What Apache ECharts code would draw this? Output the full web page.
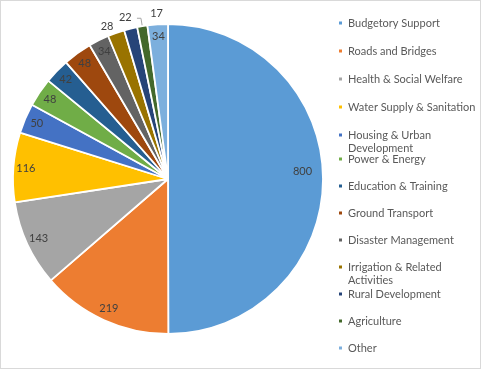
<!DOCTYPE html>
<html><head><meta charset="utf-8">
<script src="https://cdn.jsdelivr.net/npm/echarts@6/dist/echarts.min.js"></script>
<style>
html,body{margin:0;padding:0;background:#fff;}
#c{width:481px;height:369px;box-sizing:border-box;border:1px solid #d9d9d9;}
</style></head>
<body><div id="c"></div>
<script>
const categories = ['Budgetory Support','Roads and Bridges','Health & Social Welfare','Water Supply & Sanitation','Housing & Urban Development','Power & Energy','Education & Training','Ground Transport','Disaster Management','Irrigation & Related Activities','Rural Development','Agriculture','Other'];
const values = [800,219,143,116,50,48,42,48,34,28,22,17,34];
const colors = ['#5B9BD5','#ED7D31','#A5A5A5','#FFC000','#4472C4','#70AD47','#255E91','#9E480E','#636363','#997300','#264478','#43682B','#7CAFDD'];
const outsideLabels = ['Irrigation & Related Activities','Rural Development','Agriculture'];
const legendWrap = {'Housing & Urban Development':'\nHousing & Urban\nDevelopment','Irrigation & Related Activities':'\nIrrigation & Related\nActivities'};

// layout (pixel rows of legend entries, label nudges)
const legendRowY = [22,50,78,106,134,158,185,212,239,266,293,320,347];
const labelNudge = {0:[-8,-7], 9:[5,1], 10:[8,-3], 11:[27,-5]};

const FONT = 'Lato';
const chart = echarts.init(document.getElementById('c'));
const R = 155;
const center = [167, 178];

const mainData = categories.map((n,i)=>({name:n,value:values[i],itemStyle:{color:colors[i]}}));
const labelData = categories.map((n,i)=>{
  const out = outsideLabels.indexOf(n) >= 0;
  const d = {name:n,value:values[i]};
  if (out) {
    d.label = {position:'outside', distanceToLabelLine: 1};
    d.labelLine = {show: n === 'Agriculture', length: 8, length2: 4};
  }
  return d;
});

const legends = categories.map((n,i)=>{
  const wrapped = !!legendWrap[n];
  return {
    orient:'vertical', left:336, top: legendRowY[i] - (wrapped ? 19.5 : 6.5), padding:0,
    itemWidth:5, itemHeight:5, icon:'rect', selectedMode:false,
    textStyle:{fontFamily:FONT, fontSize:11, color:'#595959', lineHeight:13},
    formatter: x => legendWrap[x] || x,
    data:[{name:n, itemStyle:{color:colors[i]}}]
  };
});

chart.setOption({
  animation:false,
  legend: legends,
  series:[
    {type:'pie', radius:R, center:center, startAngle:90, clockwise:true,
     avoidLabelOverlap:false, silent:true,
     itemStyle:{borderColor:'#fff', borderWidth:1.8},
     label:{show:false}, labelLine:{show:false},
     data:mainData},
    {type:'pie', radius:[R*0.8, R], center:center, startAngle:90, clockwise:true,
     avoidLabelOverlap:false, silent:true,
     itemStyle:{color:'rgba(0,0,0,0)', borderWidth:0},
     label:{show:true, position:'inside', formatter:'{c}', fontFamily:FONT, fontSize:11, color:'#404040'},
     labelLine:{show:false, lineStyle:{color:'#a6a6a6', width:1}},
     labelLayout: p => {
       const nd = labelNudge[p.dataIndex];
       return nd ? {dx: nd[0], dy: nd[1]} : {};
     },
     data:labelData}
  ]
});
</script></body></html>
